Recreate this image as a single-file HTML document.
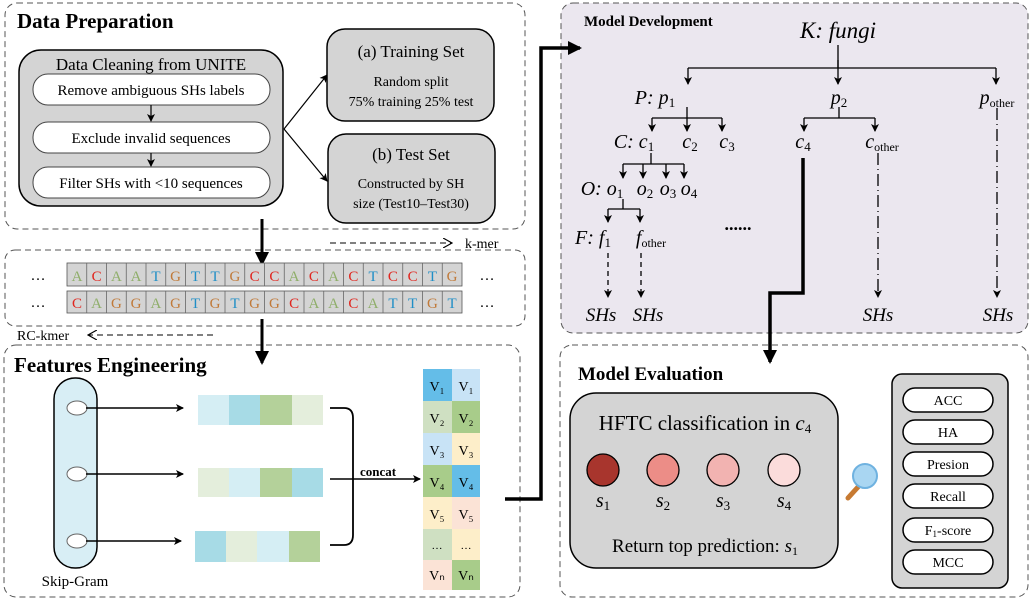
<!DOCTYPE html>
<html><head><meta charset="utf-8"><style>
html,body{margin:0;padding:0;background:#fff;}
svg{display:block;font-family:"Liberation Serif",serif;}
</style></head><body>
<svg width="1031" height="604" viewBox="0 0 1031 604" xmlns="http://www.w3.org/2000/svg">
<defs>
<marker id="a" markerWidth="8" markerHeight="8" refX="7" refY="4" orient="auto" markerUnits="userSpaceOnUse"><path d="M0,0 L8,4 L0,8 L2,4 z" fill="#000"/></marker>
<marker id="ab" markerWidth="14" markerHeight="14" refX="12" refY="7" orient="auto" markerUnits="userSpaceOnUse"><path d="M0,0 L14,7 L0,14 z" fill="#000"/></marker>
<marker id="ao" markerWidth="10" markerHeight="10" refX="9" refY="5" orient="auto" markerUnits="userSpaceOnUse"><path d="M0,0 L9,5 L0,10" fill="none" stroke="#000" stroke-width="1.2"/></marker>
</defs>
<g fill="none" stroke="#555" stroke-width="1" stroke-dasharray="6,4">
<rect x="5" y="3" width="520" height="226" rx="12"/>
<rect x="5" y="250" width="520" height="76" rx="10"/>
<rect x="4" y="345" width="516" height="252" rx="12"/>
<rect x="561" y="3" width="467" height="330" rx="12" fill="#ebe7ef"/>
<rect x="560" y="345" width="468" height="252" rx="12"/>
</g>
<g font-weight="bold" fill="#000">
<text x="17" y="28" font-size="21">Data Preparation</text>
<text x="14" y="372" font-size="21">Features Engineering</text>
<text x="584" y="26" font-size="15">Model Development</text>
<text x="578" y="380" font-size="19">Model Evaluation</text>
</g>
<!-- Data cleaning -->
<rect x="19" y="50" width="264" height="156" rx="22" fill="#d4d4d4" stroke="#000" stroke-width="1.5"/>
<text x="151" y="70" font-size="17" text-anchor="middle">Data Cleaning from UNITE</text>
<g fill="#fff" stroke="#444"><rect x="33" y="74" width="237" height="31" rx="15"/><rect x="33" y="122" width="237" height="31" rx="15"/><rect x="33" y="167" width="237" height="31" rx="15"/></g>
<g font-size="15" text-anchor="middle"><text x="151" y="95">Remove ambiguous SHs labels</text><text x="151" y="143">Exclude invalid sequences</text><text x="151" y="188">Filter SHs with &lt;10 sequences</text></g>
<g stroke="#000" stroke-width="1.2" marker-end="url(#a)"><line x1="151" y1="105" x2="151" y2="121"/><line x1="151" y1="153" x2="151" y2="166"/>
<line x1="284" y1="129" x2="327" y2="75"/><line x1="284" y1="129" x2="327" y2="181"/></g>
<rect x="327" y="29" width="167" height="92" rx="18" fill="#d4d4d4" stroke="#000" stroke-width="1.5"/>
<rect x="328" y="134" width="167" height="89" rx="18" fill="#d4d4d4" stroke="#000" stroke-width="1.5"/>
<g text-anchor="middle"><text x="411" y="57" font-size="17">(a) Training Set</text><text x="411" y="86" font-size="14">Random split</text><text x="411" y="106" font-size="14">75% training 25% test</text>
<text x="411" y="160" font-size="17">(b) Test Set</text><text x="411" y="188" font-size="14">Constructed by SH</text><text x="411" y="208" font-size="14">size (Test10–Test30)</text></g>
<!-- arrows -->
<g stroke="#000" stroke-width="3" marker-end="url(#ab)"><line x1="262" y1="219" x2="262" y2="264"/><line x1="262" y1="319" x2="262" y2="363"/></g>
<line x1="330" y1="243" x2="452" y2="243" stroke="#000" stroke-dasharray="6,4" marker-end="url(#ao)"/>
<text x="465" y="248" font-size="14">k-mer</text>
<line x1="213" y1="335" x2="88" y2="335" stroke="#000" stroke-dasharray="6,4" marker-end="url(#ao)"/>
<text x="17" y="340" font-size="14">RC-kmer</text>
<!-- sequences -->
<g id="seq" font-size="15" text-anchor="middle">
<text x="38" y="280">…</text><text x="487" y="280">…</text><text x="38" y="307">…</text><text x="487" y="307">…</text>
</g>
<g stroke="#555" fill="#d4d4d4" stroke-width="0.8">
<rect x="67" y="263" width="395" height="23"/><rect x="67" y="291" width="395" height="22"/>
</g>
<g stroke="#666" stroke-width="0.8">
<path d="M86.75,263V286M106.5,263V286M126.25,263V286M146,263V286M165.75,263V286M185.5,263V286M205.25,263V286M225,263V286M244.75,263V286M264.5,263V286M284.25,263V286M304,263V286M323.75,263V286M343.5,263V286M363.25,263V286M383,263V286M402.75,263V286M422.5,263V286M442.25,263V286"/>
<path d="M86.75,291V313M106.5,291V313M126.25,291V313M146,291V313M165.75,291V313M185.5,291V313M205.25,291V313M225,291V313M244.75,291V313M264.5,291V313M284.25,291V313M304,291V313M323.75,291V313M343.5,291V313M363.25,291V313M383,291V313M402.75,291V313M422.5,291V313M442.25,291V313"/>
</g>
<g font-size="15" text-anchor="middle">
<text y="281"><tspan x="77" fill="#8fae6a">A</tspan><tspan x="96.6" fill="#e0261f">C</tspan><tspan x="116.4" fill="#8fae6a">A</tspan><tspan x="136.1" fill="#8fae6a">A</tspan><tspan x="155.9" fill="#1f8ec6">T</tspan><tspan x="175.6" fill="#c07a3a">G</tspan><tspan x="195.4" fill="#1f8ec6">T</tspan><tspan x="215.1" fill="#1f8ec6">T</tspan><tspan x="234.9" fill="#c07a3a">G</tspan><tspan x="254.6" fill="#e0261f">C</tspan><tspan x="274.4" fill="#e0261f">C</tspan><tspan x="294.1" fill="#8fae6a">A</tspan><tspan x="313.9" fill="#e0261f">C</tspan><tspan x="333.6" fill="#8fae6a">A</tspan><tspan x="353.4" fill="#e0261f">C</tspan><tspan x="373.1" fill="#1f8ec6">T</tspan><tspan x="392.9" fill="#e0261f">C</tspan><tspan x="412.6" fill="#e0261f">C</tspan><tspan x="432.4" fill="#1f8ec6">T</tspan><tspan x="452.1" fill="#c07a3a">G</tspan></text>
<text y="308"><tspan x="77" fill="#e0261f">C</tspan><tspan x="96.6" fill="#8fae6a">A</tspan><tspan x="116.4" fill="#c07a3a">G</tspan><tspan x="136.1" fill="#c07a3a">G</tspan><tspan x="155.9" fill="#8fae6a">A</tspan><tspan x="175.6" fill="#c07a3a">G</tspan><tspan x="195.4" fill="#1f8ec6">T</tspan><tspan x="215.1" fill="#c07a3a">G</tspan><tspan x="234.9" fill="#1f8ec6">T</tspan><tspan x="254.6" fill="#c07a3a">G</tspan><tspan x="274.4" fill="#c07a3a">G</tspan><tspan x="294.1" fill="#e0261f">C</tspan><tspan x="313.9" fill="#8fae6a">A</tspan><tspan x="333.6" fill="#8fae6a">A</tspan><tspan x="353.4" fill="#e0261f">C</tspan><tspan x="373.1" fill="#8fae6a">A</tspan><tspan x="392.9" fill="#1f8ec6">T</tspan><tspan x="412.6" fill="#1f8ec6">T</tspan><tspan x="432.4" fill="#c07a3a">G</tspan><tspan x="452.1" fill="#1f8ec6">T</tspan></text>
</g>
<!-- Features -->
<rect x="54" y="378" width="43" height="190" rx="21" fill="#d8eef5" stroke="#000" stroke-width="1.5"/>
<g fill="#fff" stroke="#666"><ellipse cx="77" cy="408" rx="10" ry="7"/><ellipse cx="77" cy="474" rx="10" ry="7"/><ellipse cx="77" cy="541" rx="10" ry="7"/></g>
<g stroke="#000" stroke-width="1.5" marker-end="url(#a)"><line x1="86" y1="408" x2="183" y2="408"/><line x1="86" y1="474" x2="183" y2="474"/><line x1="86" y1="541" x2="181" y2="541"/></g>
<text x="75" y="586" font-size="15" text-anchor="middle">Skip-Gram</text>
<g><rect x="198" y="395" width="31" height="30" fill="#d5eef4"/><rect x="229" y="395" width="31" height="30" fill="#a7dbe6"/><rect x="260" y="395" width="32" height="30" fill="#b4d19a"/><rect x="292" y="395" width="31" height="30" fill="#e4eedc"/>
<rect x="198" y="468" width="31" height="29" fill="#e4eedc"/><rect x="229" y="468" width="31" height="29" fill="#d5eef4"/><rect x="260" y="468" width="32" height="29" fill="#b4d19a"/><rect x="292" y="468" width="31" height="29" fill="#a7dbe6"/>
<rect x="195" y="531" width="31" height="31" fill="#a7dbe6"/><rect x="226" y="531" width="31" height="31" fill="#e4eedc"/><rect x="257" y="531" width="32" height="31" fill="#d5eef4"/><rect x="289" y="531" width="31" height="31" fill="#b4d19a"/></g>
<path d="M330,408 H344 Q353,408 353,418 V535 Q353,545 344,545 H330" fill="none" stroke="#000" stroke-width="1.8"/>
<line x1="330" y1="479" x2="420" y2="479" stroke="#000" stroke-width="1.5" marker-end="url(#a)"/>
<text x="360" y="476" font-size="13" font-weight="bold">concat</text>
<g>
<rect x="423" y="369" width="29" height="32" fill="#64bde8"/><rect x="452" y="369" width="28" height="32" fill="#c8e3f6"/>
<rect x="423" y="401" width="29" height="32" fill="#cfe0c2"/><rect x="452" y="401" width="28" height="32" fill="#a8cc8a"/>
<rect x="423" y="433" width="29" height="32" fill="#c8e3f6"/><rect x="452" y="433" width="28" height="32" fill="#fdeec9"/>
<rect x="423" y="465" width="29" height="32" fill="#a8cc8a"/><rect x="452" y="465" width="28" height="32" fill="#64bde8"/>
<rect x="423" y="497" width="29" height="32" fill="#fdeec9"/><rect x="452" y="497" width="28" height="32" fill="#fbe3d6"/>
<rect x="423" y="529" width="29" height="31" fill="#cfe0c2"/><rect x="452" y="529" width="28" height="31" fill="#fdeec9"/>
<rect x="423" y="560" width="29" height="30" fill="#fbe3d6"/><rect x="452" y="560" width="28" height="30" fill="#a8cc8a"/>
</g>
<g font-size="14" text-anchor="middle">
<text y="391"><tspan x="437">V₁</tspan><tspan x="466">V₁</tspan></text>
<text y="423"><tspan x="437">V₂</tspan><tspan x="466">V₂</tspan></text>
<text y="455"><tspan x="437">V₃</tspan><tspan x="466">V₃</tspan></text>
<text y="487"><tspan x="437">V₄</tspan><tspan x="466">V₄</tspan></text>
<text y="519"><tspan x="437">V₅</tspan><tspan x="466">V₅</tspan></text>
<text y="549" font-size="11"><tspan x="437">…</tspan><tspan x="466">…</tspan></text>
<text y="580"><tspan x="437">Vₙ</tspan><tspan x="466">Vₙ</tspan></text>
</g>
<path d="M505,499 H541 V48 H580" fill="none" stroke="#000" stroke-width="3.5" marker-end="url(#ab)"/>
<!-- Tree -->
<g font-style="italic" font-size="20" text-anchor="middle">
<text x="838" y="38" font-size="23">K: fungi</text>
<text x="655" y="104">P: p<tspan font-size="13" dy="3" font-style="normal">1</tspan></text>
<text x="839" y="104">p<tspan font-size="13" dy="3" font-style="normal">2</tspan></text>
<text x="997" y="104">p<tspan font-size="12" dy="3" font-style="normal">other</tspan></text>
<text x="634" y="148">C: c<tspan font-size="13" dy="3" font-style="normal">1</tspan></text>
<text x="690" y="148">c<tspan font-size="13" dy="3" font-style="normal">2</tspan></text>
<text x="727" y="148">c<tspan font-size="13" dy="3" font-style="normal">3</tspan></text>
<text x="803" y="148">c<tspan font-size="13" dy="3" font-style="normal">4</tspan></text>
<text x="882" y="148">c<tspan font-size="12" dy="3" font-style="normal">other</tspan></text>
<text x="602" y="195">O: o<tspan font-size="13" dy="3" font-style="normal">1</tspan></text>
<text x="645" y="195">o<tspan font-size="13" dy="3" font-style="normal">2</tspan></text>
<text x="668" y="195">o<tspan font-size="13" dy="3" font-style="normal">3</tspan></text>
<text x="689" y="195">o<tspan font-size="13" dy="3" font-style="normal">4</tspan></text>
<text x="593" y="244">F: f<tspan font-size="13" dy="3" font-style="normal">1</tspan></text>
<text x="651" y="244">f<tspan font-size="12" dy="3" font-style="normal">other</tspan></text>
<text x="601" y="321" font-size="19">SHs</text><text x="648" y="321" font-size="19">SHs</text><text x="878" y="321" font-size="19">SHs</text><text x="998" y="321" font-size="19">SHs</text>
</g>
<text x="738" y="230" font-size="18" font-weight="bold" text-anchor="middle">......</text>
<g stroke="#000" stroke-width="1.3" fill="none">
<path d="M838,45 V68 M688,68 H996 M687,107 V118 M652,118 H722 M839,107 V118 M804,118 H875 M651,153 V164 M623,164 H684 M623,199 V209 M608,209 H640"/>
</g>
<g stroke="#000" stroke-width="1.3" marker-end="url(#a)">
<line x1="688" y1="68" x2="688" y2="84"/><line x1="838" y1="60" x2="838" y2="84"/><line x1="996" y1="68" x2="996" y2="84"/>
<line x1="652" y1="118" x2="652" y2="131"/><line x1="687" y1="118" x2="687" y2="131"/><line x1="722" y1="118" x2="722" y2="131"/>
<line x1="804" y1="118" x2="804" y2="131"/><line x1="875" y1="118" x2="875" y2="131"/>
<line x1="623" y1="164" x2="623" y2="178"/><line x1="643" y1="164" x2="643" y2="178"/><line x1="666" y1="164" x2="666" y2="178"/><line x1="684" y1="164" x2="684" y2="178"/>
<line x1="608" y1="209" x2="608" y2="222"/><line x1="640" y1="209" x2="640" y2="222"/>
</g>
<g stroke="#000" stroke-width="1.3" marker-end="url(#a)">
<line x1="608" y1="253" x2="608" y2="297" stroke-dasharray="5,4"/><line x1="641" y1="253" x2="641" y2="297" stroke-dasharray="5,4"/>
<line x1="878" y1="153" x2="878" y2="297" stroke-dasharray="12,4,1,4"/><line x1="997" y1="108" x2="997" y2="297" stroke-dasharray="12,4,1,4"/>
</g>
<path d="M803,158 V293 H770 V362" fill="none" stroke="#000" stroke-width="3.5" marker-end="url(#ab)"/>
<!-- Evaluation -->
<rect x="570" y="393" width="268" height="175" rx="26" fill="#d4d4d4" stroke="#000" stroke-width="1.5"/>
<text x="705" y="430" font-size="21" text-anchor="middle">HFTC classification in <tspan font-style="italic">c</tspan><tspan font-size="13" dy="3">4</tspan></text>
<g stroke="#000" stroke-width="1.3"><circle cx="603" cy="470" r="16" fill="#a8352d"/><circle cx="663" cy="470" r="16" fill="#ec8d87"/><circle cx="723" cy="470" r="16" fill="#f2b3b1"/><circle cx="784" cy="470" r="16" fill="#fbdcdb"/></g>
<g font-size="20" font-style="italic" text-anchor="middle">
<text x="603" y="507">s<tspan font-size="13" dy="3" font-style="normal">1</tspan></text><text x="663" y="507">s<tspan font-size="13" dy="3" font-style="normal">2</tspan></text><text x="723" y="507">s<tspan font-size="13" dy="3" font-style="normal">3</tspan></text><text x="784" y="507">s<tspan font-size="13" dy="3" font-style="normal">4</tspan></text>
</g>
<text x="705" y="552" font-size="19" text-anchor="middle">Return top prediction: <tspan font-style="italic">s</tspan><tspan font-size="12" dy="3">1</tspan></text>
<line x1="848" y1="498" x2="858" y2="487" stroke="#c77a32" stroke-width="5" stroke-linecap="round"/>
<circle cx="865" cy="476" r="12" fill="#a9d6f2" stroke="#6fb2e0" stroke-width="2"/>
<rect x="892" y="374" width="116" height="214" rx="10" fill="#d4d4d4" stroke="#000" stroke-width="1.5"/>
<g fill="#fff" stroke="#000" stroke-width="1.5">
<rect x="903" y="388" width="90" height="24" rx="12"/><rect x="903" y="420" width="90" height="24" rx="12"/><rect x="903" y="452" width="90" height="24" rx="12"/><rect x="903" y="484" width="90" height="24" rx="12"/><rect x="903" y="518" width="90" height="24" rx="12"/><rect x="903" y="550" width="90" height="24" rx="12"/>
</g>
<g font-size="14" text-anchor="middle">
<text x="948" y="405">ACC</text><text x="948" y="437">HA</text><text x="948" y="469">Presion</text><text x="948" y="501">Recall</text><text x="948" y="535">F<tspan font-size="9" dy="2">1</tspan><tspan dy="-2">-score</tspan></text><text x="948" y="567">MCC</text>
</g>
</svg>
</body></html>
